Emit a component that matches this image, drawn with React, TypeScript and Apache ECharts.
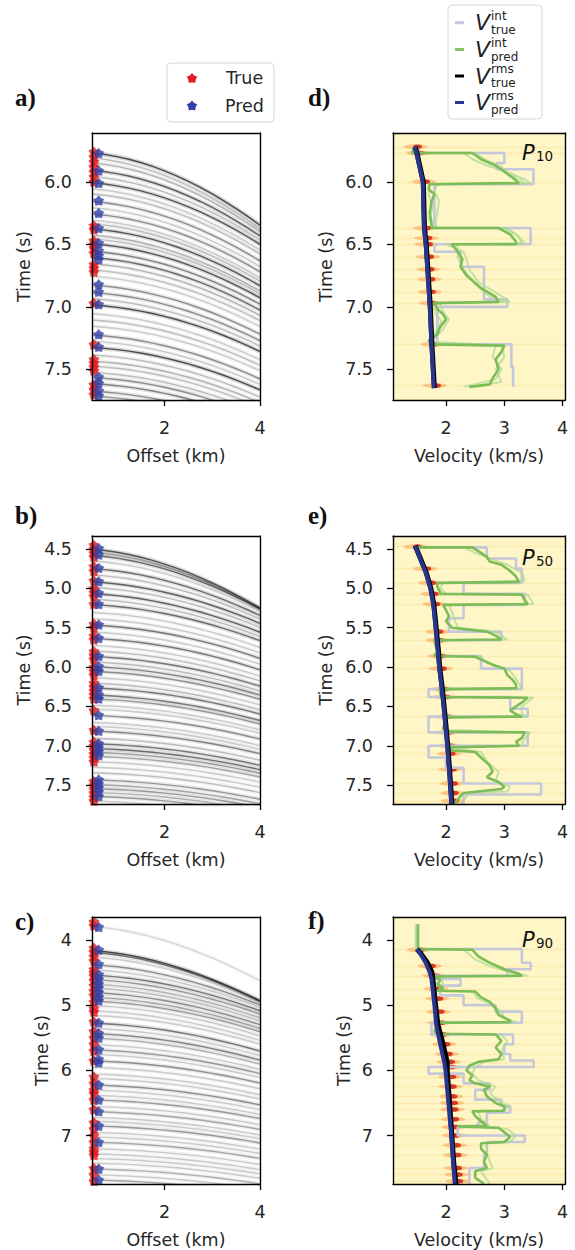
import { useEffect, useRef } from "react";
import * as echarts from "echarts";

// ---------- data ----------
const OFFSETS = [0.48, 0.75, 1.0, 1.25, 1.5, 1.75, 2.0, 2.25, 2.5, 2.75, 3.0, 3.25, 3.5, 3.75, 4.0];
const OFFSET_TICKS = [2, 4];
const VELOCITY_TICKS = [2, 3, 4];
const TIME_TICKS_1 = [6.0, 6.5, 7.0, 7.5];
const TIME_TICKS_2 = [4.5, 5.0, 5.5, 6.0, 6.5, 7.0, 7.5];
const TIME_TICKS_3 = [4, 5, 6, 7];

// reflection events: [zero-offset time (s), rms velocity (km/s), relative amplitude]
const EVENTS_A = [
  [5.76, 1.5, 0.75], [5.8, 1.51, 0.25], [5.84, 1.53, 0.3], [5.9, 1.56, 0.65], [5.95, 1.58, 0.25], [6.0, 1.6, 0.7],
  [6.05, 1.6, 0.2], [6.09, 1.61, 0.25], [6.15, 1.61, 0.45], [6.2, 1.61, 0.2], [6.25, 1.62, 0.45], [6.3, 1.62, 0.2],
  [6.33, 1.62, 0.25], [6.37, 1.62, 0.7], [6.42, 1.63, 0.3], [6.45, 1.64, 0.25], [6.49, 1.65, 0.7], [6.55, 1.66, 0.5],
  [6.6, 1.66, 0.6], [6.65, 1.67, 0.3], [6.7, 1.68, 0.25], [6.75, 1.68, 0.2], [6.82, 1.69, 0.45], [6.88, 1.7, 0.45],
  [6.93, 1.71, 0.25], [6.98, 1.72, 0.75], [7.05, 1.72, 0.2], [7.1, 1.73, 0.25], [7.15, 1.74, 0.2], [7.22, 1.74, 0.45],
  [7.27, 1.75, 0.2], [7.32, 1.76, 0.75], [7.38, 1.76, 0.25], [7.43, 1.77, 0.3], [7.47, 1.77, 0.25], [7.52, 1.78, 0.25],
  [7.56, 1.78, 0.45], [7.61, 1.79, 0.5], [7.67, 1.79, 0.45], [7.71, 1.8, 0.4],
];
const EVENTS_B = [
  [4.49, 1.47, 0.7], [4.53, 1.5, 0.35], [4.57, 1.53, 0.6], [4.64, 1.57, 0.2], [4.74, 1.62, 0.6], [4.82, 1.66, 0.25],
  [4.91, 1.7, 0.65], [4.98, 1.72, 0.25], [5.06, 1.74, 0.65], [5.13, 1.76, 0.25], [5.2, 1.78, 0.6], [5.3, 1.79, 0.2],
  [5.38, 1.8, 0.2], [5.46, 1.81, 0.55], [5.55, 1.83, 0.2], [5.63, 1.84, 0.55], [5.72, 1.85, 0.2], [5.79, 1.86, 0.25],
  [5.86, 1.86, 0.55], [5.93, 1.87, 0.25], [5.99, 1.88, 0.5], [6.05, 1.89, 0.45], [6.13, 1.9, 0.2], [6.2, 1.91, 0.25],
  [6.26, 1.92, 0.55], [6.35, 1.93, 0.55], [6.4, 1.94, 0.4], [6.48, 1.95, 0.2], [6.53, 1.96, 0.2], [6.61, 1.97, 0.45],
  [6.7, 1.98, 0.2], [6.75, 1.98, 0.2], [6.81, 1.99, 0.5], [6.9, 2.0, 0.25], [6.97, 2.01, 0.55], [7.03, 2.02, 0.6],
  [7.08, 2.03, 0.4], [7.13, 2.03, 0.35], [7.2, 2.04, 0.2], [7.27, 2.05, 0.2], [7.34, 2.05, 0.25], [7.43, 2.06, 0.4],
  [7.49, 2.06, 0.35], [7.54, 2.07, 0.4], [7.59, 2.07, 0.3], [7.64, 2.08, 0.4], [7.7, 2.08, 0.2],
];
const EVENTS_C = [
  [3.78, 1.5, 0.15], [4.15, 1.5, 0.75], [4.18, 1.52, 0.5], [4.25, 1.57, 0.2], [4.37, 1.65, 0.45], [4.45, 1.7, 0.2],
  [4.53, 1.73, 0.55], [4.6, 1.75, 0.4], [4.67, 1.76, 0.3], [4.73, 1.77, 0.25], [4.8, 1.78, 0.45], [4.87, 1.79, 0.35],
  [4.93, 1.8, 0.4], [5.0, 1.8, 0.2], [5.08, 1.81, 0.2], [5.15, 1.82, 0.2], [5.27, 1.83, 0.55], [5.35, 1.84, 0.2],
  [5.43, 1.85, 0.5], [5.5, 1.86, 0.3], [5.6, 1.89, 0.2], [5.68, 1.92, 0.4], [5.75, 1.93, 0.2], [5.85, 1.96, 0.45],
  [5.95, 1.98, 0.2], [6.05, 1.99, 0.2], [6.12, 2.0, 0.2], [6.22, 2.01, 0.45], [6.3, 2.02, 0.2], [6.38, 2.03, 0.2],
  [6.45, 2.04, 0.4], [6.55, 2.05, 0.2], [6.63, 2.06, 0.35], [6.72, 2.07, 0.2], [6.78, 2.07, 0.2], [6.85, 2.08, 0.4],
  [6.95, 2.09, 0.2], [7.02, 2.09, 0.2], [7.1, 2.1, 0.35], [7.2, 2.11, 0.2], [7.28, 2.11, 0.2], [7.35, 2.12, 0.2],
  [7.42, 2.12, 0.2], [7.51, 2.13, 0.3], [7.6, 2.13, 0.2], [7.68, 2.14, 0.35],
];

// picked times (s)
const PRED_A = [5.77, 5.91, 6.01, 6.15, 6.25, 6.37, 6.49, 6.55, 6.59, 6.62, 6.82, 6.88, 6.98, 7.22, 7.32, 7.56, 7.61, 7.67, 7.71];
const TRUE_A = [5.76, 5.8, 5.84, 5.88, 5.92, 5.96, 6.0, 6.35, 6.38, 6.47, 6.5, 6.53, 6.57, 6.66, 6.69, 6.72, 6.97, 7.3, 7.42, 7.45, 7.48, 7.51, 7.62, 7.66, 7.7];
const PRED_B = [4.49, 4.57, 4.74, 4.91, 5.06, 5.2, 5.46, 5.63, 5.86, 5.99, 6.05, 6.26, 6.35, 6.4, 6.61, 6.81, 6.97, 7.02, 7.07, 7.12, 7.43, 7.48, 7.53, 7.58, 7.64];
const TRUE_B = [4.45, 4.5, 4.55, 4.6, 4.72, 4.78, 4.9, 5.0, 5.05, 5.1, 5.2, 5.45, 5.5, 5.6, 5.65, 5.8, 5.85, 5.9, 6.0, 6.05, 6.1, 6.2, 6.25, 6.3, 6.35, 6.4, 6.55, 6.8, 6.95, 7.0, 7.05, 7.1, 7.15, 7.2, 7.45, 7.5, 7.55, 7.6, 7.65, 7.7];
const PRED_C = [3.8, 4.15, 4.37, 4.53, 4.6, 4.67, 4.73, 4.8, 4.87, 4.93, 5.27, 5.43, 5.5, 5.68, 5.83, 5.88, 6.22, 6.45, 6.63, 6.85, 7.1, 7.51, 7.68];
const TRUE_C = [3.72, 3.78, 4.12, 4.18, 4.25, 4.32, 4.45, 4.5, 4.55, 4.62, 4.7, 4.78, 4.85, 4.95, 5.05, 5.1, 5.25, 5.4, 5.5, 5.6, 5.7, 5.85, 6.1, 6.2, 6.3, 6.35, 6.45, 6.6, 6.8, 6.9, 7.0, 7.1, 7.2, 7.25, 7.3, 7.5, 7.6, 7.7];

// velocity profiles: [time (s), velocity (km/s)]
const RMS_TRUE_D = [[5.72, 1.47], [5.77, 1.5], [6.0, 1.61], [6.37, 1.63], [6.5, 1.66], [7.0, 1.73], [7.32, 1.76], [7.65, 1.8]];
const RMS_PRED_D = [[5.72, 1.46], [5.77, 1.49], [6.0, 1.6], [6.37, 1.62], [6.5, 1.65], [7.0, 1.72], [7.32, 1.75], [7.65, 1.79]];
const INT_TRUE_BOUNDS_D = [5.72, 5.77, 5.85, 5.9, 6.02, 6.37, 6.5, 6.56, 6.68, 6.94, 7.0, 7.3, 7.48, 7.64];
const INT_TRUE_VEL_D = [1.5, 3.0, 2.87, 3.5, 1.8, 3.45, 1.8, 2.25, 2.65, 3.05, 1.85, 3.12, 3.15];
const INT_PRED_D = [[5.72, 1.45], [5.77, 1.42], [5.77, 2.45], [5.82, 2.6], [5.87, 2.85], [5.92, 3.0], [5.97, 3.15], [6.01, 3.25], [6.02, 1.72], [6.06, 1.7], [6.1, 1.8], [6.16, 1.75], [6.25, 1.72], [6.33, 1.75], [6.37, 1.75], [6.37, 2.9], [6.42, 3.1], [6.48, 3.2], [6.5, 3.2], [6.5, 2.1], [6.56, 2.2], [6.62, 2.28], [6.68, 2.25], [6.75, 2.35], [6.85, 2.6], [6.92, 2.85], [6.96, 2.9], [6.97, 1.8], [7.02, 1.85], [7.06, 1.95], [7.1, 2.0], [7.16, 1.9], [7.22, 1.85], [7.27, 1.7], [7.3, 1.75], [7.31, 3.0], [7.36, 2.95], [7.42, 2.85], [7.5, 2.9], [7.57, 2.8], [7.62, 2.75], [7.64, 2.4]];
const INT_SAMPLE1_D = [[5.77, 1.4], [5.77, 2.3], [5.82, 2.45], [5.87, 2.7], [5.92, 3.05], [5.98, 3.35], [6.01, 3.45], [6.02, 1.85], [6.08, 1.8], [6.15, 1.88], [6.25, 1.85], [6.33, 1.82], [6.37, 1.85], [6.37, 3.0], [6.42, 3.2], [6.49, 3.35], [6.5, 2.0], [6.56, 2.3], [6.62, 2.35], [6.7, 2.4], [6.8, 2.55], [6.9, 2.9], [6.96, 3.1], [6.97, 1.9], [7.04, 1.95], [7.1, 2.05], [7.18, 1.95], [7.25, 1.8], [7.3, 1.7], [7.31, 2.85], [7.4, 2.8], [7.5, 2.95], [7.58, 2.85], [7.64, 2.3]];
const INT_SAMPLE2_D = [[5.77, 1.45], [5.77, 2.5], [5.83, 2.7], [5.88, 2.95], [5.93, 3.05], [5.99, 3.3], [6.01, 3.35], [6.02, 1.7], [6.1, 1.7], [6.2, 1.78], [6.3, 1.7], [6.37, 1.8], [6.37, 3.05], [6.44, 3.25], [6.5, 3.3], [6.5, 2.2], [6.6, 2.2], [6.7, 2.3], [6.82, 2.5], [6.92, 2.75], [6.96, 3.0], [6.97, 1.75], [7.05, 1.82], [7.12, 1.92], [7.2, 1.82], [7.28, 1.75], [7.31, 2.95], [7.4, 3.0], [7.5, 2.85], [7.6, 2.95], [7.64, 2.5]];
const SEMB_D = [[5.72, 1.48], [5.77, 1.52], [6.0, 1.62], [6.37, 1.64], [6.45, 1.66], [6.5, 1.67], [6.6, 1.69], [6.7, 1.7], [6.78, 1.71], [6.88, 1.72], [6.97, 1.74], [7.3, 1.77], [7.63, 1.81]];

const RMS_TRUE_E = [[4.46, 1.47], [4.6, 1.55], [4.8, 1.66], [5.0, 1.74], [5.2, 1.79], [5.5, 1.83], [5.8, 1.87], [6.0, 1.89], [6.3, 1.94], [6.6, 1.98], [7.0, 2.03], [7.3, 2.06], [7.74, 2.1]];
const RMS_PRED_E = [[4.46, 1.47], [4.6, 1.54], [4.8, 1.65], [5.0, 1.73], [5.2, 1.78], [5.5, 1.82], [5.8, 1.86], [6.0, 1.88], [6.3, 1.93], [6.6, 1.97], [7.0, 2.02], [7.3, 2.05], [7.74, 2.09]];
const INT_TRUE_BOUNDS_E = [4.47, 4.48, 4.62, 4.75, 4.93, 5.07, 5.21, 5.38, 5.55, 5.66, 5.86, 6.02, 6.28, 6.38, 6.53, 6.63, 6.83, 7.0, 7.15, 7.28, 7.48, 7.62, 7.75];
const INT_TRUE_VEL_E = [1.5, 2.7, 3.2, 3.3, 2.3, 3.35, 2.3, 2.05, 2.95, 1.85, 2.6, 3.3, 1.7, 3.1, 3.4, 1.7, 3.4, 1.7, 2.0, 2.3, 3.63, 2.3];
const INT_PRED_E = [[4.47, 1.45], [4.48, 1.45], [4.48, 2.45], [4.55, 2.6], [4.6, 2.7], [4.66, 2.75], [4.7, 2.95], [4.78, 3.1], [4.85, 3.2], [4.92, 3.25], [4.93, 1.85], [4.98, 1.85], [5.05, 1.9], [5.07, 1.9], [5.08, 3.3], [5.15, 3.35], [5.2, 3.4], [5.21, 1.95], [5.28, 2.0], [5.35, 2.05], [5.42, 2.0], [5.5, 2.1], [5.55, 2.7], [5.6, 2.85], [5.65, 2.95], [5.66, 1.8], [5.72, 1.82], [5.8, 1.85], [5.86, 1.8], [5.87, 2.5], [5.92, 2.65], [5.97, 2.8], [6.02, 3.0], [6.1, 3.05], [6.17, 3.15], [6.22, 3.2], [6.27, 3.2], [6.28, 1.9], [6.33, 1.9], [6.38, 1.92], [6.39, 3.4], [6.45, 3.3], [6.5, 3.2], [6.55, 3.1], [6.6, 3.2], [6.63, 3.3], [6.64, 2.0], [6.7, 1.98], [6.78, 1.95], [6.82, 2.0], [6.83, 3.35], [6.9, 3.3], [6.95, 3.2], [7.0, 3.25], [7.02, 2.05], [7.06, 2.1], [7.08, 2.5], [7.15, 2.6], [7.25, 2.75], [7.33, 2.8], [7.4, 2.7], [7.46, 2.9], [7.52, 3.0], [7.55, 2.95], [7.6, 2.3], [7.68, 2.2], [7.74, 2.15]];
const INT_SAMPLE1_E = [[4.48, 1.5], [4.48, 2.3], [4.55, 2.5], [4.62, 2.75], [4.7, 3.05], [4.8, 3.3], [4.9, 3.35], [4.93, 1.95], [5.0, 1.9], [5.07, 2.0], [5.08, 3.4], [5.2, 3.5], [5.21, 2.05], [5.3, 2.1], [5.4, 2.15], [5.5, 2.2], [5.55, 2.85], [5.65, 3.05], [5.66, 1.85], [5.78, 1.9], [5.86, 1.85], [5.87, 2.6], [5.95, 2.7], [6.05, 3.1], [6.15, 3.2], [6.27, 3.3], [6.28, 1.85], [6.38, 1.95], [6.39, 3.5], [6.5, 3.3], [6.6, 3.3], [6.63, 3.4], [6.64, 1.95], [6.8, 2.0], [6.83, 3.45], [6.95, 3.3], [7.0, 3.35], [7.02, 2.0], [7.08, 2.6], [7.2, 2.7], [7.33, 2.9], [7.45, 2.85], [7.52, 3.1], [7.58, 3.05], [7.6, 2.4], [7.74, 2.25]];
const SEMB_E = [[4.47, 1.48], [4.75, 1.64], [4.93, 1.73], [5.07, 1.77], [5.2, 1.8], [5.55, 1.85], [5.66, 1.86], [5.86, 1.89], [6.02, 1.91], [6.28, 1.95], [6.38, 1.97], [6.63, 2.0], [6.83, 2.03], [7.0, 2.05], [7.1, 2.06], [7.3, 2.08], [7.48, 2.1], [7.6, 2.11], [7.7, 2.12]];

const RMS_TRUE_F = [[4.14, 1.5], [4.2, 1.56], [4.35, 1.68], [4.5, 1.76], [4.56, 1.77], [5.0, 1.82], [5.3, 1.86], [5.6, 1.95], [5.88, 2.02], [6.0, 2.02], [6.5, 2.06], [7.0, 2.1], [7.4, 2.13], [7.75, 2.17]];
const RMS_PRED_F = [[4.14, 1.5], [4.2, 1.55], [4.35, 1.65], [4.5, 1.72], [4.6, 1.75], [5.0, 1.8], [5.3, 1.83], [5.6, 1.9], [5.88, 1.97], [6.0, 1.99], [6.5, 2.04], [7.0, 2.09], [7.4, 2.12], [7.75, 2.15]];
const INT_TRUE_BOUNDS_F = [3.76, 4.14, 4.35, 4.45, 4.55, 4.6, 4.7, 4.85, 5.0, 5.1, 5.27, 5.45, 5.6, 5.75, 5.85, 5.95, 6.05, 6.2, 6.3, 6.45, 6.55, 6.65, 6.8, 6.87, 7.0, 7.1, 7.3, 7.5, 7.75];
const INT_TRUE_VEL_F = [1.5, 3.3, 3.45, 3.05, 1.8, 2.25, 1.9, 2.3, 2.85, 3.3, 1.75, 3.15, 3.0, 3.1, 3.5, 1.7, 2.3, 2.75, 2.5, 2.95, 3.1, 2.7, 2.55, 2.2, 3.35, 2.7, 2.65, 2.4];
const INT_PRED_F = [[3.76, 1.52], [4.14, 1.52], [4.15, 2.45], [4.25, 2.55], [4.35, 2.75], [4.45, 3.0], [4.52, 3.25], [4.55, 3.3], [4.56, 1.82], [4.62, 1.9], [4.68, 1.85], [4.74, 1.95], [4.78, 1.85], [4.79, 2.5], [4.88, 2.6], [4.95, 2.75], [5.05, 2.85], [5.15, 2.9], [5.24, 3.1], [5.26, 3.1], [5.27, 1.85], [5.33, 1.85], [5.4, 1.8], [5.44, 1.85], [5.45, 2.85], [5.55, 2.95], [5.65, 2.85], [5.75, 2.95], [5.83, 2.9], [5.87, 2.55], [5.93, 2.4], [6.0, 2.35], [6.08, 2.45], [6.15, 2.4], [6.2, 2.5], [6.25, 2.75], [6.3, 2.65], [6.4, 2.7], [6.5, 2.85], [6.55, 3.0], [6.62, 3.0], [6.63, 2.45], [6.7, 2.5], [6.78, 2.6], [6.85, 2.7], [6.86, 2.2], [6.88, 2.9], [6.95, 3.0], [7.02, 3.1], [7.1, 3.0], [7.12, 2.6], [7.2, 2.6], [7.3, 2.7], [7.4, 2.65], [7.5, 2.7], [7.55, 2.5], [7.65, 2.5], [7.74, 2.65]];
const INT_SAMPLE1_F = [[3.76, 1.48], [4.14, 1.48], [4.15, 2.3], [4.3, 2.5], [4.4, 2.75], [4.5, 3.1], [4.55, 3.4], [4.56, 1.9], [4.65, 1.95], [4.75, 1.9], [4.78, 1.9], [4.79, 2.45], [4.9, 2.55], [5.0, 2.8], [5.1, 2.95], [5.2, 3.0], [5.26, 3.2], [5.27, 1.9], [5.35, 1.8], [5.44, 1.9], [5.45, 2.95], [5.55, 3.05], [5.7, 2.95], [5.83, 3.0], [5.87, 2.65], [5.95, 2.5], [6.05, 2.45], [6.15, 2.55], [6.25, 2.85], [6.35, 2.75], [6.5, 2.95], [6.55, 3.1], [6.62, 2.95], [6.63, 2.55], [6.75, 2.6], [6.85, 2.75], [6.86, 2.3], [6.9, 3.05], [7.0, 3.2], [7.1, 3.1], [7.12, 2.7], [7.25, 2.7], [7.4, 2.75], [7.5, 2.8], [7.55, 2.6], [7.74, 2.75]];
const SEMB_F = [[4.15, 1.53], [4.4, 1.72], [4.55, 1.8], [4.75, 1.83], [4.9, 1.85], [5.1, 1.87], [5.27, 1.89], [5.45, 1.92], [5.6, 1.97], [5.75, 2.01], [5.87, 2.05], [5.95, 2.06], [6.1, 2.07], [6.25, 2.08], [6.4, 2.09], [6.5, 2.1], [6.6, 2.11], [6.75, 2.12], [6.87, 2.13], [7.0, 2.14], [7.15, 2.15], [7.3, 2.16], [7.5, 2.17], [7.6, 2.18], [7.7, 2.19]];

// ---------- styles / layout ----------
const FONT = "DejaVu Sans";
const TXT = "#262626";
const FS = 17.5;
const C_TRUE_INT = "#c5c7db";
const C_PRED_INT = "#7cbd58";
const C_SAMPLE = "#a9d894";
const C_RMS_TRUE = "#000000";
const C_RMS_PRED = "#28358f";
const C_STAR_TRUE = "#e3191f";
const C_STAR_PRED = "#3241a8";
const STAR_RATIO = 0.68;

function starPoints(cx: number, cy: number, R: number, ratio: number): number[][] {
  const pts: number[][] = [];
  for (let k = 0; k < 10; k++) {
    const r = k % 2 === 0 ? R : R * ratio;
    const a = -Math.PI / 2 + (k * Math.PI) / 5;
    pts.push([cx + r * Math.cos(a), cy + r * Math.sin(a)]);
  }
  return pts;
}
const STAR = "path://M" + starPoints(0, 0, 10, STAR_RATIO).map((p) => `${p[0].toFixed(2)} ${p[1].toFixed(2)}`).join(" L") + " Z";

function steps(bounds: number[], vels: number[]): number[][] {
  const out: number[][] = [];
  for (let i = 0; i < vels.length; i++) {
    out.push([vels[i], bounds[i]]);
    out.push([vels[i], bounds[i + 1]]);
  }
  return out;
}
const tv = (arr: number[][]) => arr.map(([t, v]) => [v, t]);

type Gather = { kind: "gather"; events: number[][]; pred: number[]; tru: number[] };
type Vel = {
  kind: "vel"; rmsTrue: number[][]; rmsPred: number[][]; bounds: number[]; vels: number[];
  pred: number[][]; samples: number[][][]; semb: number[][]; p: string; pY: number;
};
type Panel = (Gather | Vel) & {
  label: string; labelX: number; labelY: number;
  grid: { left: number; top: number; width: number; height: number };
  yMin: number; yMax: number; yTicks: number[]; dec: number; nameGap: number;
};

const PANELS: Panel[] = [
  { kind: "gather", label: "a)", labelX: 15, labelY: 97, grid: { left: 92, top: 133, width: 168, height: 267 }, yMin: 5.61, yMax: 7.745, yTicks: TIME_TICKS_1, dec: 1, nameGap: 59, events: EVENTS_A, pred: PRED_A, tru: TRUE_A },
  { kind: "gather", label: "b)", labelX: 15, labelY: 515, grid: { left: 92, top: 536, width: 168, height: 268 }, yMin: 4.335, yMax: 7.74, yTicks: TIME_TICKS_2, dec: 1, nameGap: 59, events: EVENTS_B, pred: PRED_B, tru: TRUE_B },
  { kind: "gather", label: "c)", labelX: 15, labelY: 921, grid: { left: 92, top: 917, width: 168, height: 268 }, yMin: 3.648, yMax: 7.744, yTicks: TIME_TICKS_3, dec: 0, nameGap: 41, events: EVENTS_C, pred: PRED_C, tru: TRUE_C },
  { kind: "vel", label: "d)", labelX: 308, labelY: 97, grid: { left: 393, top: 133, width: 172, height: 267 }, yMin: 5.61, yMax: 7.745, yTicks: TIME_TICKS_1, dec: 1, nameGap: 58, rmsTrue: RMS_TRUE_D, rmsPred: RMS_PRED_D, bounds: INT_TRUE_BOUNDS_D, vels: INT_TRUE_VEL_D, pred: INT_PRED_D, samples: [INT_SAMPLE1_D, INT_SAMPLE2_D], semb: SEMB_D, p: "10", pY: 153 },
  { kind: "vel", label: "e)", labelX: 308, labelY: 515, grid: { left: 393, top: 536, width: 172, height: 268 }, yMin: 4.335, yMax: 7.74, yTicks: TIME_TICKS_2, dec: 1, nameGap: 58, rmsTrue: RMS_TRUE_E, rmsPred: RMS_PRED_E, bounds: INT_TRUE_BOUNDS_E, vels: INT_TRUE_VEL_E, pred: INT_PRED_E, samples: [INT_SAMPLE1_E], semb: SEMB_E, p: "50", pY: 558 },
  { kind: "vel", label: "f)", labelX: 308, labelY: 920, grid: { left: 393, top: 917, width: 172, height: 268 }, yMin: 3.648, yMax: 7.744, yTicks: TIME_TICKS_3, dec: 0, nameGap: 40, rmsTrue: RMS_TRUE_F, rmsPred: RMS_PRED_F, bounds: INT_TRUE_BOUNDS_F, vels: INT_TRUE_VEL_F, pred: INT_PRED_F, samples: [INT_SAMPLE1_F], semb: SEMB_F, p: "90", pY: 940 },
];

const LEGEND_VEL = [
  { sup: "int", sub: "true", color: C_TRUE_INT, y: 22.7 },
  { sup: "int", sub: "pred", color: "#86c466", y: 49.5 },
  { sup: "rms", sub: "true", color: C_RMS_TRUE, y: 76 },
  { sup: "rms", sub: "pred", color: C_RMS_PRED, y: 102.5 },
];

function buildOption() {
  const grid: any[] = [];
  const xAxis: any[] = [];
  const yAxis: any[] = [];
  const series: any[] = [];
  const graphic: any[] = [];
  const axisLineStyle = { color: "#000", width: 1.4 };
  const tickStyle = { color: "#000", width: 1.3 };
  const labelStyle = { fontFamily: FONT, fontSize: FS, color: TXT };

  PANELS.forEach((p, i) => {
    const isVel = p.kind === "vel";
    const xMin = isVel ? 1.09 : 0.48;
    const xMax = isVel ? 4.04 : 4.0;
    const xTicks = isVel ? VELOCITY_TICKS : OFFSET_TICKS;
    grid.push({ ...p.grid, show: isVel, backgroundColor: "#fef6c6", borderWidth: 0, containLabel: false });
    xAxis.push({
      gridIndex: i, type: "value", min: xMin, max: xMax, position: "bottom", z: 10,
      axisLine: { show: true, onZero: false, lineStyle: axisLineStyle },
      axisTick: { show: true, length: 6, customValues: xTicks, lineStyle: tickStyle },
      axisLabel: { show: true, customValues: xTicks, margin: 19, ...labelStyle, formatter: (v: number) => String(Math.round(v)) },
      splitLine: { show: false },
      name: isVel ? "Velocity (km/s)" : "Offset (km)", nameLocation: "middle", nameGap: 47,
      nameTextStyle: { ...labelStyle },
    });
    xAxis.push({
      gridIndex: i, type: "value", min: xMin, max: xMax, position: "top", z: 10,
      axisLine: { show: true, onZero: false, lineStyle: axisLineStyle },
      axisTick: { show: false }, axisLabel: { show: false }, splitLine: { show: false },
    });
    yAxis.push({
      gridIndex: i, type: "value", min: p.yMin, max: p.yMax, inverse: true, position: "left", z: 10,
      axisLine: { show: true, onZero: false, lineStyle: axisLineStyle },
      axisTick: { show: true, length: 6, customValues: p.yTicks, lineStyle: tickStyle },
      axisLabel: { show: true, customValues: p.yTicks, margin: 20, ...labelStyle, formatter: (v: number) => v.toFixed(p.dec) },
      splitLine: { show: false },
      name: "Time (s)", nameLocation: "middle", nameGap: p.nameGap, nameRotate: 90,
      nameTextStyle: { ...labelStyle },
    });
    yAxis.push({
      gridIndex: i, type: "value", min: p.yMin, max: p.yMax, inverse: true, position: "right", z: 10,
      axisLine: { show: true, onZero: false, lineStyle: axisLineStyle },
      axisTick: { show: false }, axisLabel: { show: false }, splitLine: { show: false },
    });
    const xi = 2 * i;
    const yi = 2 * i;

    if (p.kind === "gather") {
      const curves = p.events.map(([t0, v, a]) => ({
        coords: OFFSETS.map((x) => [x, Math.sqrt(t0 * t0 + (x * x) / (v * v))]),
        amp: a,
      }));
      series.push({
        type: "lines", coordinateSystem: "cartesian2d", xAxisIndex: xi, yAxisIndex: yi, polyline: true, silent: true, clip: true, z: 2,
        lineStyle: { color: "#000", width: 4.5 },
        data: curves.map((c) => ({ coords: c.coords, lineStyle: { color: "#000", width: 4.5, opacity: c.amp * 0.2 } })),
      });
      series.push({
        type: "lines", coordinateSystem: "cartesian2d", xAxisIndex: xi, yAxisIndex: yi, polyline: true, silent: true, clip: true, z: 3,
        lineStyle: { color: "#000", width: 1.4 },
        data: curves.map((c) => ({ coords: c.coords, lineStyle: { color: "#111", width: 1.4, opacity: Math.min(0.9, c.amp * 0.95) } })),
      });
      series.push({
        type: "scatter", xAxisIndex: xi, yAxisIndex: yi, symbol: STAR, symbolKeepAspect: true, symbolSize: 11, z: 5, silent: true,
        itemStyle: { color: C_STAR_TRUE }, data: p.tru.map((t) => [0.52, t]),
      });
      series.push({
        type: "scatter", xAxisIndex: xi, yAxisIndex: yi, symbol: STAR, symbolKeepAspect: true, symbolSize: 11, z: 6, silent: true,
        itemStyle: { color: C_STAR_PRED }, data: p.pred.map((t) => [0.62, t]),
      });
    } else {
      series.push({
        type: "lines", coordinateSystem: "cartesian2d", xAxisIndex: xi, yAxisIndex: yi, silent: true, clip: true, z: 1,
        lineStyle: { color: "#f3c257", width: 1.4, opacity: 0.2 },
        data: p.semb.map(([t]) => ({ coords: [[xMin, t], [xMax, t]] })),
      });
      series.push({
        type: "scatter", xAxisIndex: xi, yAxisIndex: yi, symbol: "circle", symbolSize: [24, 5], z: 2, silent: true,
        itemStyle: { color: "#fd8d3c", opacity: 0.45 }, data: tv(p.semb),
      });
      series.push({
        type: "scatter", xAxisIndex: xi, yAxisIndex: yi, symbol: "circle", symbolSize: [9, 4.5], z: 2, silent: true,
        itemStyle: { color: "#cf2a1c", opacity: 0.9 }, data: tv(p.semb).map(([v, t]) => [v + 0.03, t]),
      });
      series.push({
        type: "line", xAxisIndex: xi, yAxisIndex: yi, symbol: "none", clip: true, z: 3, silent: true,
        lineStyle: { color: C_TRUE_INT, width: 2.6 }, data: steps(p.bounds, p.vels),
      });
      p.samples.forEach((s) =>
        series.push({
          type: "line", xAxisIndex: xi, yAxisIndex: yi, symbol: "none", clip: true, z: 4, silent: true,
          lineStyle: { color: C_SAMPLE, width: 2, opacity: 0.7 }, data: tv(s),
        })
      );
      series.push({
        type: "line", xAxisIndex: xi, yAxisIndex: yi, symbol: "none", clip: true, z: 5, silent: true,
        lineStyle: { color: C_PRED_INT, width: 2.6 }, data: tv(p.pred),
      });
      series.push({
        type: "line", xAxisIndex: xi, yAxisIndex: yi, symbol: "none", clip: true, z: 6, silent: true,
        lineStyle: { color: C_RMS_TRUE, width: 5 }, data: tv(p.rmsTrue),
      });
      series.push({
        type: "line", xAxisIndex: xi, yAxisIndex: yi, symbol: "none", clip: true, z: 7, silent: true,
        lineStyle: { color: C_RMS_PRED, width: 4 }, data: tv(p.rmsPred),
      });
      graphic.push({
        type: "text", x: 522, y: p.pY, z: 100,
        style: { text: "P", fontFamily: FONT, fontStyle: "italic", fontSize: 21, fill: "#111", verticalAlign: "middle", textVerticalAlign: "middle" },
      });
      graphic.push({
        type: "text", x: 536, y: p.pY + 3, z: 100,
        style: { text: p.p, fontFamily: FONT, fontSize: 13.5, fill: "#111", verticalAlign: "middle", textVerticalAlign: "middle" },
      });
    }
    graphic.push({
      type: "text", x: p.labelX, y: p.labelY, z: 100,
      style: { text: p.label, fontFamily: "Liberation Serif", fontWeight: "bold", fontSize: 25, fill: "#111", verticalAlign: "middle", textVerticalAlign: "middle" },
    });
  });

  // left legend (True / Pred)
  graphic.push({ type: "rect", z: 100, shape: { x: 167, y: 63, width: 107, height: 59, r: 4 }, style: { fill: "#fff", stroke: "#d6d6d6", lineWidth: 1 } });
  graphic.push({ type: "polygon", z: 101, shape: { points: starPoints(192, 78.5, 5.5, STAR_RATIO) }, style: { fill: C_STAR_TRUE } });
  graphic.push({ type: "polygon", z: 101, shape: { points: starPoints(192, 106, 5.5, STAR_RATIO) }, style: { fill: C_STAR_PRED } });
  graphic.push({ type: "text", x: 226, y: 78, z: 101, style: { text: "True", fontFamily: FONT, fontSize: FS, fill: TXT, verticalAlign: "middle", textVerticalAlign: "middle" } });
  graphic.push({ type: "text", x: 225, y: 106, z: 101, style: { text: "Pred", fontFamily: FONT, fontSize: FS, fill: TXT, verticalAlign: "middle", textVerticalAlign: "middle" } });

  // right legend (velocities)
  graphic.push({ type: "rect", z: 100, shape: { x: 448, y: 5, width: 94, height: 114, r: 4 }, style: { fill: "#fff", stroke: "#d6d6d6", lineWidth: 1 } });
  LEGEND_VEL.forEach((it) => {
    graphic.push({ type: "line", z: 101, shape: { x1: 455, y1: it.y, x2: 464, y2: it.y }, style: { stroke: it.color, lineWidth: 3 } });
    graphic.push({ type: "text", x: 475, y: it.y, z: 101, style: { text: "V", fontFamily: FONT, fontStyle: "italic", fontSize: 22, fill: "#222", verticalAlign: "middle", textVerticalAlign: "middle" } });
    graphic.push({ type: "text", x: 491, y: it.y - 7, z: 101, style: { text: it.sup, fontFamily: FONT, fontSize: 12, lineHeight: 12, fill: "#222", verticalAlign: "middle", textVerticalAlign: "middle" } });
    graphic.push({ type: "text", x: 491, y: it.y + 7, z: 101, style: { text: it.sub, fontFamily: FONT, fontSize: 12, lineHeight: 12, fill: "#222", verticalAlign: "middle", textVerticalAlign: "middle" } });
  });

  return { animation: false, backgroundColor: "#fff", grid, xAxis, yAxis, series, graphic };
}

export default function App() {
  const ref = useRef<HTMLDivElement>(null);
  useEffect(() => {
    if (!ref.current) return;
    const chart = echarts.init(ref.current, undefined, { renderer: "svg" });
    chart.setOption(buildOption() as any);
    return () => chart.dispose();
  }, []);
  return <div ref={ref} style={{ position: "absolute", left: 0, top: 0, width: 575, height: 1250 }} />;
}
